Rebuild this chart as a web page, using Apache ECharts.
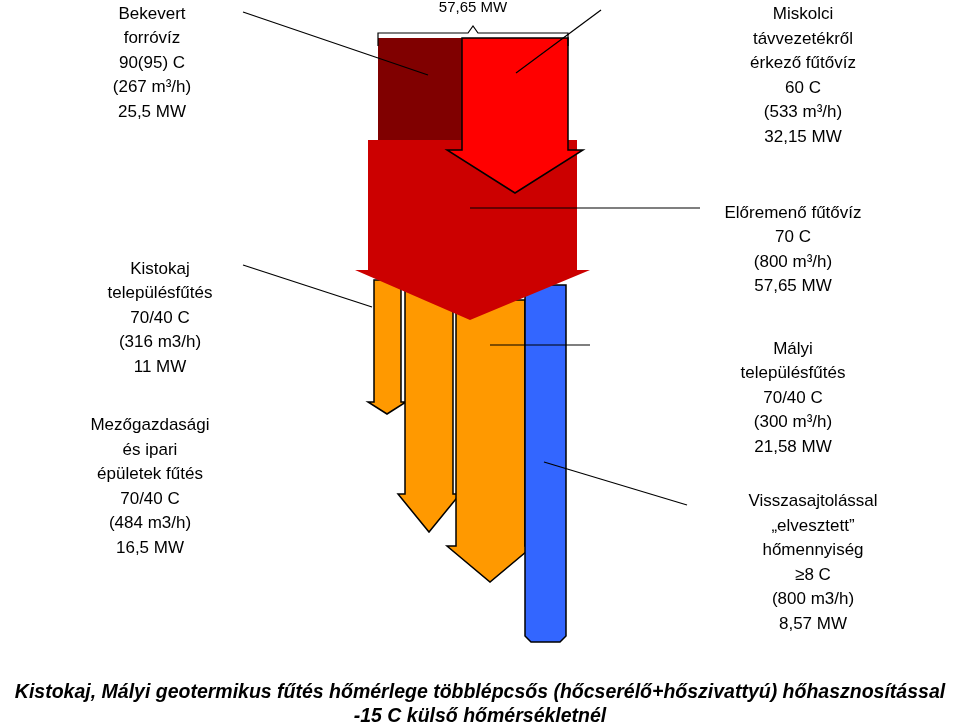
<![CDATA[<!DOCTYPE html><html><head><meta charset="utf-8">
<script src="https://cdn.jsdelivr.net/npm/echarts@6/dist/echarts.min.js"></script>
<style>html,body{margin:0;background:#fff}#c{width:960px;height:728px}</style></head><body><div id="c"></div>
<script>
var flowNames=['Bekevert forróvíz','Miskolci távvezeték','Előremenő fűtővíz','Kistokaj','Mezőgazdasági','Mályi','Visszasajtolás'];
var flowMW=[25.5,32.15,57.65,11,16.5,21.58,8.57];
var leftLabels=[
 {x:152,y:63,t:'Bekevert\nforróvíz\n90(95) C\n(267 m³/h)\n25,5 MW'},
 {x:160,y:318,t:'Kistokaj\ntelepülésfűtés\n70/40 C\n(316 m3/h)\n11 MW'},
 {x:150,y:487,t:'Mezőgazdasági\nés ipari\népületek fűtés\n70/40 C\n(484 m3/h)\n16,5 MW'}];
var rightLabels=[
 {x:803,y:76,t:'Miskolci\ntávvezetékről\nérkező fűtővíz\n60 C\n(533 m³/h)\n32,15 MW'},
 {x:793,y:250,t:'Előremenő fűtővíz\n70 C\n(800 m³/h)\n57,65 MW'},
 {x:793,y:398,t:'Mályi\ntelepülésfűtés\n70/40 C\n(300 m³/h)\n21,58 MW'},
 {x:813,y:563,t:'Visszasajtolással\n„elvesztett”\nhőmennyiség\n≥8 C\n(800 m3/h)\n8,57 MW'}];
var shapes=[
 ['#ff9900','#000',[[374,280],[401,280],[401,402],[406,402],[387,414],[368,402],[374,402]]],
 ['#ff9900','#000',[[405,290],[453,290],[453,494],[460,494],[429,532],[398,494],[405,494]]],
 ['#ff9900','#000',[[456,300],[525,300],[525,546],[533,546],[490,582],[447,546],[456,546]]],
 ['#3366ff','#000',[[525,285],[566,285],[566,636],[560,642],[531,642],[525,636]]],
 ['#cc0000',null,[[368,140],[577,140],[577,270],[590,270],[470,320],[355,270],[368,270]]],
 ['#800000',null,[[378,38],[462,38],[462,140],[378,140]]],
 ['#ff0000','#000',[[462,38],[568,38],[568,150],[583,150],[515,193],[447,150],[462,150]]]];
var lines=[[[243,12],[428,75]],[[601,10],[516,73]],[[243,265],[372,307]],[[700,208],[470,208]],[[590,345],[490,345]],[[687,505],[544,462]],
 [[378,46],[378,33],[468,33],[473,26],[478,33],[568,33],[568,46]]];
var ch=echarts.init(document.getElementById('c'));
ch.setOption({animation:false,
 grid:{left:0,right:0,top:0,bottom:0},
 xAxis:{type:'value',min:0,max:960,show:false},
 yAxis:{type:'value',min:0,max:728,inverse:true,show:false},
 series:[{type:'custom',data:shapes.map(function(s,i){return [i,0];}),renderItem:function(p,api){
   var s=shapes[api.value(0)];
   return {type:'polygon',shape:{points:s[2].map(function(q){return api.coord(q);})},style:{fill:s[0],stroke:s[1]||null,lineWidth:1.5}};
 }},
 {type:'custom',data:lines.map(function(l,i){return [i,0];}),renderItem:function(p,api){
   var l=lines[api.value(0)];
   return {type:'polyline',shape:{points:l.map(function(q){return api.coord(q);})},style:{stroke:'#000',lineWidth:1.2,fill:null}};
 }}],
 graphic:[].concat(leftLabels.concat(rightLabels).map(function(L){return {type:'text',x:L.x,y:L.y,style:{text:L.t,fill:'#000',font:'17px "Liberation Sans", Arial',align:'center',verticalAlign:'middle',lineHeight:24.5}};}),
  [{type:'text',x:473,y:8,style:{text:'57,65 MW',font:'15px "Liberation Sans"',align:'center',verticalAlign:'middle'}},
   {type:'text',x:480,y:705,style:{text:'Kistokaj, Mályi geotermikus fűtés hőmérlege többlépcsős (hőcserélő+hőszivattyú) hőhasznosítással\n-15 C külső hőmérsékletnél',font:'italic bold 19.5px "Liberation Sans"',align:'center',verticalAlign:'middle',lineHeight:24}}])
});
</script></body></html>]]>
